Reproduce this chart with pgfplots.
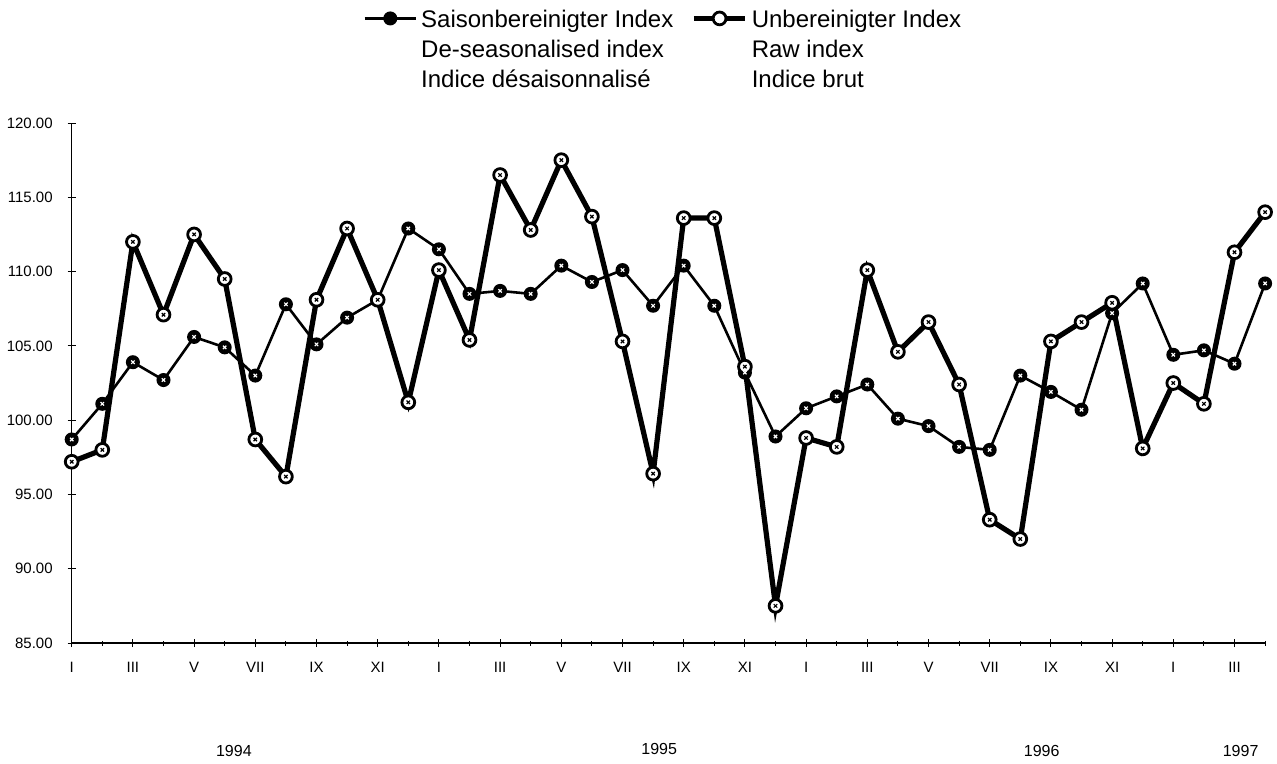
\documentclass[border=0pt]{standalone}
\usepackage{pgfplots}
\pgfplotsset{compat=1.18}
\usepackage{fontspec}
\setmainfont{Liberation Sans}
\pgfplotstableread{
i seas raw
0 98.7 97.2
1 101.1 98.0
2 103.9 112.0
3 102.7 107.1
4 105.6 112.5
5 104.9 109.5
6 103.0 98.7
7 107.8 96.2
8 105.1 108.1
9 106.9 112.9
10 108.1 108.1
11 112.9 101.2
12 111.5 110.1
13 108.5 105.4
14 108.7 116.5
15 108.5 112.8
16 110.4 117.5
17 109.3 113.7
18 110.1 105.3
19 107.7 96.4
20 110.4 113.6
21 107.7 113.6
22 103.2 103.6
23 98.9 87.5
24 100.8 98.8
25 101.6 98.2
26 102.4 110.1
27 100.1 104.6
28 99.6 106.6
29 98.2 102.4
30 98.0 93.3
31 103.0 92.0
32 101.9 105.3
33 100.7 106.6
34 107.2 107.9
35 109.2 98.1
36 104.4 102.5
37 104.7 101.1
38 103.8 111.3
39 109.2 114.0
}\datatable
\begin{document}
\begin{tikzpicture}
\path (0,0) rectangle (638.5pt,381pt);
\begin{axis}[
  at={(35.85pt,59.5pt)}, anchor=south west,
  scale only axis, width=596.7pt, height=260pt,
  xmin=0, xmax=39, ymin=85, ymax=120,
  axis x line*=bottom, axis y line*=left,
  axis line style={line width=0.6pt},
  clip=false,
  xtick={0,2,...,38},
  xticklabels={I,III,V,VII,IX,XI,I,III,V,VII,IX,XI,I,III,V,VII,IX,XI,I,III},
  minor xtick={1,3,...,39},
  ytick={85,90,...,120},
  tick align=center,
  major tick length=4pt, minor tick length=2.5pt,
  tick style={line width=0.5pt, black},
  ticklabel style={font=\fontsize{7.5}{9}\selectfont},
  /pgf/number format/assume math mode=true,
  y tick label style={/pgf/number format/fixed, /pgf/number format/fixed zerofill, /pgf/number format/precision=2, xshift=-4pt},
  x tick label style={yshift=-4pt},
  legend columns=2,
  legend cell align=left,
  legend style={at={(0.2424,1.2365)}, anchor=north west, draw=none, fill=none, inner sep=1pt,
    font=\fontsize{12}{15}\selectfont,
    /tikz/every even column/.append style={column sep=7pt}},
  legend image code/.code={\draw[mark repeat=2,mark phase=2] plot coordinates {(0cm,0cm)(0.45cm,0cm)(0.9cm,0cm)};},
]
\addplot[black, line width=1.3pt, mark=*, mark size=3.1pt, mark options={fill=black, line width=0.8pt}] table[x=i,y=seas]{\datatable};
\addlegendentry{\begin{tabular}[t]{@{}l@{}}Saisonbereinigter Index\\De-seasonalised index\\Indice désaisonnalisé\end{tabular}}
\addplot[black, line width=2.6pt, mark=*, mark size=3.2pt, mark options={fill=white, line width=1.4pt}] table[x=i,y=raw]{\datatable};
\addlegendentry{\begin{tabular}[t]{@{}l@{}}Unbereinigter Index\\Raw index\\Indice brut\end{tabular}}
\addplot[forget plot, only marks, white, mark=x, mark size=1.2pt, mark options={line width=0.6pt}] table[x=i,y=seas]{\datatable};
\addplot[forget plot, only marks, black, mark=x, mark size=1.2pt, mark options={line width=0.6pt}] table[x=i,y=raw]{\datatable};
\node[font=\fontsize{8}{9}\selectfont] at (axis cs:5.3,77.7) {1994};
\node[font=\fontsize{8}{9}\selectfont] at (axis cs:19.2,77.9) {1995};
\node[font=\fontsize{8}{9}\selectfont] at (axis cs:31.7,77.7) {1996};
\node[font=\fontsize{8}{9}\selectfont] at (axis cs:38.2,77.7) {1997};
\end{axis}
\end{tikzpicture}
\end{document}
